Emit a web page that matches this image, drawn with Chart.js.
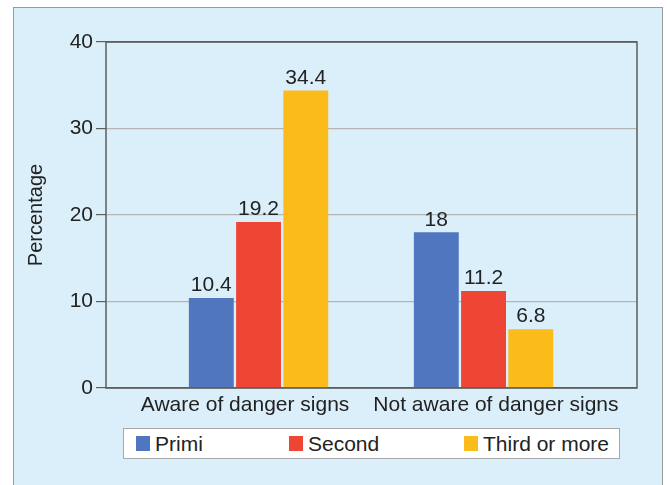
<!DOCTYPE html>
<html>
<head>
<meta charset="utf-8">
<script src="https://cdn.jsdelivr.net/npm/chart.js@4"></script>
<style>
  html, body { margin: 0; padding: 0; background: #fff; }
  body { width: 667px; height: 485px; position: relative; overflow: hidden; font-family: 'Liberation Sans', Arial, sans-serif; }
  .panel { position: absolute; left: 13px; top: 7px; width: 650px; height: 490px; background: #dbeffb; border: 1px solid #9a9a9a; box-sizing: border-box; }
  #wrap { position: absolute; left: 0; top: 0; width: 667px; height: 485px; }
  .legend { position: absolute; left: 123px; top: 428px; width: 497px; height: 31px; background: #fff; border: 1px solid #a8a8a8; box-sizing: border-box; }
  .legend span { position: absolute; top: 3px; font-size: 21px; color: #222; line-height: 24px; }
  .legend i { position: absolute; top: 7px; width: 14px; height: 15px; }
</style>
</head>
<body>
<div class="panel"></div>
<div id="wrap"><canvas id="chart" width="667" height="485"></canvas></div>
<div class="legend" id="legend"></div>
<script>
const CATEGORIES = ['Aware of danger signs', 'Not aware of danger signs']
const SERIES = ['Primi', 'Second', 'Third or more']
const PRIMI = [10.4, 18]
const SECOND = [19.2, 11.2]
const THIRD = [34.4, 6.8]
const Y_TICKS = [0, 10, 20, 30, 40]

const COLORS = ['#4f76bf', '#ee4535', '#fbbb1a']
const FONT = "'Liberation Sans', Arial, sans-serif"
const TEXT = '#222'
const FRAME = '#5e5e5e'
const GRID = '#b4b4b4'

// category labels sit a little outward from their bar groups
const LABEL_SHIFT = [-0.06, 0.055]

const values = [PRIMI, SECOND, THIRD]

const datasets = SERIES.map((name, s) => ({
  label: name,
  data: values[s].map((v, i) => ({ x: i + 1, y: v })),
  backgroundColor: COLORS[s],
  borderWidth: 0,
  categoryPercentage: 0.63,
  barPercentage: 0.95,
}))

// value above each bar
const barValues = {
  id: 'barValues',
  afterDatasetsDraw(chart) {
    const { ctx } = chart
    ctx.save()
    ctx.font = `21px ${FONT}`
    ctx.fillStyle = TEXT
    ctx.textAlign = 'center'
    ctx.textBaseline = 'bottom'
    chart.data.datasets.forEach((ds, di) => {
      chart.getDatasetMeta(di).data.forEach((bar, i) => {
        ctx.fillText(String(ds.data[i].y), bar.x, bar.y - 2)
      })
    })
    ctx.restore()
  }
}

// box round the plot area
const frame = {
  id: 'frame',
  afterDatasetsDraw(chart) {
    const { ctx, chartArea: a } = chart
    ctx.save()
    ctx.strokeStyle = FRAME
    ctx.lineWidth = 1.5
    ctx.strokeRect(a.left, a.top, a.right - a.left, a.bottom - a.top)
    ctx.restore()
  }
}

new Chart(document.getElementById('chart'), {
  type: 'bar',
  data: { datasets },
  options: {
    responsive: false,
    animation: false,
    layout: { padding: { left: 22, right: 30, top: 42, bottom: 57 } },
    plugins: { legend: { display: false }, tooltip: { enabled: false } },
    scales: {
      x: {
        type: 'linear',
        offset: false,
        min: 0.322,
        max: 2.682,
        afterBuildTicks: scale => {
          scale.ticks = CATEGORIES.map((c, i) => ({ value: i + 1 + LABEL_SHIFT[i] }))
        },
        afterFit: scale => { scale.height = 40 },
        grid: { display: false, drawTicks: false },
        border: { display: false },
        ticks: {
          padding: 5,
          color: TEXT,
          font: { family: FONT, size: 21 },
          maxRotation: 0,
          autoSkip: false,
          callback: (v, i) => CATEGORIES[i],
        },
      },
      y: {
        min: Y_TICKS[0],
        max: Y_TICKS[Y_TICKS.length - 1],
        afterBuildTicks: scale => { scale.ticks = Y_TICKS.map(v => ({ value: v })) },
        afterFit: scale => { scale.width = 84 },
        border: { display: false },
        grid: {
          color: ctx => (ctx.tick && (ctx.tick.value === 0 || ctx.tick.value === 40)) ? FRAME : GRID,
          tickColor: FRAME,
          tickLength: 10,
          lineWidth: 1.2,
        },
        ticks: {
          padding: 3,
          color: TEXT,
          font: { family: FONT, size: 21 },
        },
        title: {
          display: true,
          text: 'Percentage',
          color: TEXT,
          font: { family: FONT, size: 20 },
          padding: { top: 2, bottom: 0 },
        },
      },
    },
  },
  plugins: [barValues, frame],
})

// legend row
const legendPos = [12, 165, 340]
const legend = document.getElementById('legend')
SERIES.forEach((name, s) => {
  const sw = document.createElement('i')
  sw.style.left = legendPos[s] + 'px'
  sw.style.background = COLORS[s]
  const tx = document.createElement('span')
  tx.style.left = (legendPos[s] + 19) + 'px'
  tx.textContent = name
  legend.appendChild(sw)
  legend.appendChild(tx)
})
</script>
</body>
</html>
